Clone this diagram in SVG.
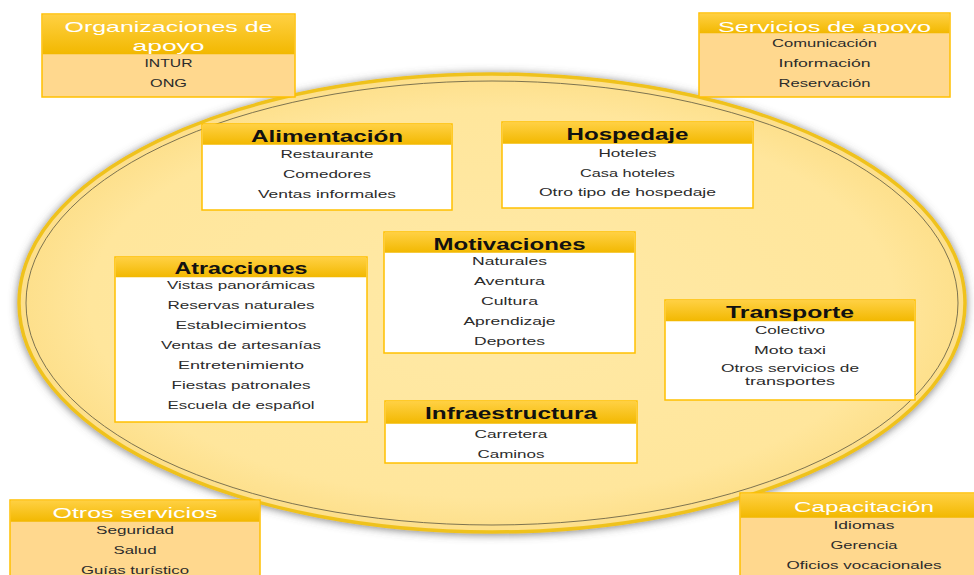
<svg xmlns="http://www.w3.org/2000/svg" width="974" height="575" viewBox="0 0 974 575">
<defs>
<linearGradient id="hdr" x1="0" y1="0" x2="0" y2="1">
<stop offset="0" stop-color="#FFD042"/>
<stop offset="1" stop-color="#F2B800"/>
</linearGradient>
<radialGradient id="ell" cx="0.5" cy="0.5" r="0.5">
<stop offset="0" stop-color="#FFE9A6"/>
<stop offset="0.85" stop-color="#FFE69C"/>
<stop offset="1" stop-color="#FDDF8A"/>
</radialGradient>
<filter id="shadow" x="-10%" y="-10%" width="120%" height="120%">
<feGaussianBlur in="SourceAlpha" stdDeviation="4"/>
<feOffset dx="0" dy="1" result="b"/>
<feFlood flood-color="#555" flood-opacity="0.75"/>
<feComposite in2="b" operator="in"/>
<feMerge><feMergeNode/><feMergeNode in="SourceGraphic"/></feMerge>
</filter>
<clipPath id="clipServ"><rect x="699" y="13" width="251" height="20"/></clipPath>
<clipPath id="clipOrg"><rect x="42" y="14" width="253" height="40"/></clipPath>
</defs>
<style>
.box{stroke:#FFC000;stroke-width:1.5}
.inner{fill:#FFFFFF}
.outer{fill:#FFD88E}
.hdr{fill:url(#hdr)}
.t{font-family:"Liberation Sans",Arial,sans-serif;text-anchor:middle;lengthAdjust:spacingAndGlyphs}
.item{font-size:10.5px;fill:#2b2b2b}
.ttl{font-size:16px;font-weight:bold;fill:#111}
.wttl{font-size:15px;fill:#FFFFFF}
</style>

<g id="ellipse">
<ellipse cx="492" cy="303" rx="473" ry="229" fill="url(#ell)" stroke="#EFC21E" stroke-width="3.5" filter="url(#shadow)"/>
<ellipse cx="492" cy="303" rx="466" ry="222" fill="none" stroke="#6E6648" stroke-width="0.9"/>
</g>

<g id="organizaciones">
<rect class="box outer" x="42" y="14" width="253" height="83"/>
<rect class="hdr" x="42.75" y="14.75" width="251.5" height="39.5"/>
<g clip-path="url(#clipOrg)">
<text class="t wttl" x="168.5" y="32" textLength="208" lengthAdjust="spacingAndGlyphs">Organizaciones de</text>
<text class="t wttl" x="168.5" y="51" textLength="72" lengthAdjust="spacingAndGlyphs">apoyo</text>
</g>
<text class="t item" x="168.5" y="67" textLength="48" lengthAdjust="spacingAndGlyphs">INTUR</text>
<text class="t item" x="168.5" y="87" textLength="37" lengthAdjust="spacingAndGlyphs">ONG</text>
</g>

<g id="servicios">
<rect class="box outer" x="699" y="13" width="251" height="84"/>
<rect class="hdr" x="699.75" y="13.75" width="249.5" height="19.5"/>
<g clip-path="url(#clipServ)">
<text class="t wttl" x="824.5" y="32" textLength="213" lengthAdjust="spacingAndGlyphs">Servicios de apoyo</text>
</g>
<text class="t item" x="824.5" y="47" textLength="105" lengthAdjust="spacingAndGlyphs">Comunicación</text>
<text class="t item" x="824.5" y="67" textLength="92" lengthAdjust="spacingAndGlyphs">Información</text>
<text class="t item" x="824.5" y="87" textLength="92" lengthAdjust="spacingAndGlyphs">Reservación</text>
</g>

<g id="alimentacion">
<rect class="box inner" x="202" y="124" width="250" height="86"/>
<rect class="hdr" x="202.75" y="124.75" width="248.5" height="20"/>
<text class="t ttl" x="327" y="142" textLength="152" lengthAdjust="spacingAndGlyphs">Alimentación</text>
<text class="t item" x="327" y="158" textLength="93" lengthAdjust="spacingAndGlyphs">Restaurante</text>
<text class="t item" x="327" y="178" textLength="88" lengthAdjust="spacingAndGlyphs">Comedores</text>
<text class="t item" x="327" y="198" textLength="138" lengthAdjust="spacingAndGlyphs">Ventas informales</text>
</g>

<g id="hospedaje">
<rect class="box inner" x="502" y="122" width="251" height="86"/>
<rect class="hdr" x="502.75" y="122.75" width="249.5" height="21"/>
<text class="t ttl" x="627.5" y="140" textLength="122" lengthAdjust="spacingAndGlyphs">Hospedaje</text>
<text class="t item" x="627.5" y="157" textLength="58" lengthAdjust="spacingAndGlyphs">Hoteles</text>
<text class="t item" x="627.5" y="177" textLength="95" lengthAdjust="spacingAndGlyphs">Casa hoteles</text>
<text class="t item" x="627.5" y="196" textLength="177" lengthAdjust="spacingAndGlyphs">Otro tipo de hospedaje</text>
</g>

<g id="motivaciones">
<rect class="box inner" x="384" y="232" width="251" height="121"/>
<rect class="hdr" x="384.75" y="232.75" width="249.5" height="20"/>
<text class="t ttl" x="509.5" y="250" textLength="152" lengthAdjust="spacingAndGlyphs">Motivaciones</text>
<text class="t item" x="509.5" y="265" textLength="75" lengthAdjust="spacingAndGlyphs">Naturales</text>
<text class="t item" x="509.5" y="285" textLength="71" lengthAdjust="spacingAndGlyphs">Aventura</text>
<text class="t item" x="509.5" y="305" textLength="57" lengthAdjust="spacingAndGlyphs">Cultura</text>
<text class="t item" x="509.5" y="325" textLength="92" lengthAdjust="spacingAndGlyphs">Aprendizaje</text>
<text class="t item" x="509.5" y="345" textLength="71" lengthAdjust="spacingAndGlyphs">Deportes</text>
</g>

<g id="atracciones">
<rect class="box inner" x="115" y="257" width="252" height="165"/>
<rect class="hdr" x="115.75" y="257.75" width="250.5" height="19.5"/>
<text class="t ttl" x="241" y="274" textLength="133" lengthAdjust="spacingAndGlyphs">Atracciones</text>
<text class="t item" x="241" y="289" textLength="148" lengthAdjust="spacingAndGlyphs">Vistas panorámicas</text>
<text class="t item" x="241" y="309" textLength="147" lengthAdjust="spacingAndGlyphs">Reservas naturales</text>
<text class="t item" x="241" y="329" textLength="131" lengthAdjust="spacingAndGlyphs">Establecimientos</text>
<text class="t item" x="241" y="349" textLength="160" lengthAdjust="spacingAndGlyphs">Ventas de artesanías</text>
<text class="t item" x="241" y="369" textLength="126" lengthAdjust="spacingAndGlyphs">Entretenimiento</text>
<text class="t item" x="241" y="389" textLength="139" lengthAdjust="spacingAndGlyphs">Fiestas patronales</text>
<text class="t item" x="241" y="409" textLength="147" lengthAdjust="spacingAndGlyphs">Escuela de español</text>
</g>

<g id="transporte">
<rect class="box inner" x="665" y="300" width="250" height="100"/>
<rect class="hdr" x="665.75" y="300.75" width="248.5" height="20.5"/>
<text class="t ttl" x="790" y="318" textLength="128" lengthAdjust="spacingAndGlyphs">Transporte</text>
<text class="t item" x="790" y="334" textLength="70" lengthAdjust="spacingAndGlyphs">Colectivo</text>
<text class="t item" x="790" y="354" textLength="72" lengthAdjust="spacingAndGlyphs">Moto taxi</text>
<text class="t item" x="790" y="372" textLength="138" lengthAdjust="spacingAndGlyphs">Otros servicios de</text>
<text class="t item" x="790" y="385" textLength="90" lengthAdjust="spacingAndGlyphs">transportes</text>
</g>

<g id="infraestructura">
<rect class="box inner" x="385" y="401" width="252" height="62"/>
<rect class="hdr" x="385.75" y="401.75" width="250.5" height="22"/>
<text class="t ttl" x="511" y="419" textLength="172" lengthAdjust="spacingAndGlyphs">Infraestructura</text>
<text class="t item" x="511" y="438" textLength="73" lengthAdjust="spacingAndGlyphs">Carretera</text>
<text class="t item" x="511" y="458" textLength="67" lengthAdjust="spacingAndGlyphs">Caminos</text>
</g>

<g id="otros-servicios">
<rect class="box outer" x="10" y="500" width="250" height="80"/>
<rect class="hdr" x="10.75" y="500.75" width="248.5" height="21"/>
<text class="t wttl" x="135" y="518" textLength="165" lengthAdjust="spacingAndGlyphs">Otros servicios</text>
<text class="t item" x="135" y="534" textLength="78" lengthAdjust="spacingAndGlyphs">Seguridad</text>
<text class="t item" x="135" y="554" textLength="43" lengthAdjust="spacingAndGlyphs">Salud</text>
<text class="t item" x="135" y="574" textLength="108" lengthAdjust="spacingAndGlyphs">Guías turístico</text>
</g>

<g id="capacitacion">
<rect class="box outer" x="740" y="493" width="250" height="87"/>
<rect class="hdr" x="740.75" y="493.75" width="248.5" height="24"/>
<text class="t wttl" x="864" y="512" textLength="140" lengthAdjust="spacingAndGlyphs">Capacitación</text>
<text class="t item" x="864" y="529" textLength="61" lengthAdjust="spacingAndGlyphs">Idiomas</text>
<text class="t item" x="864" y="549" textLength="67" lengthAdjust="spacingAndGlyphs">Gerencia</text>
<text class="t item" x="864" y="569" textLength="155" lengthAdjust="spacingAndGlyphs">Oficios vocacionales</text>
</g>
</svg>
